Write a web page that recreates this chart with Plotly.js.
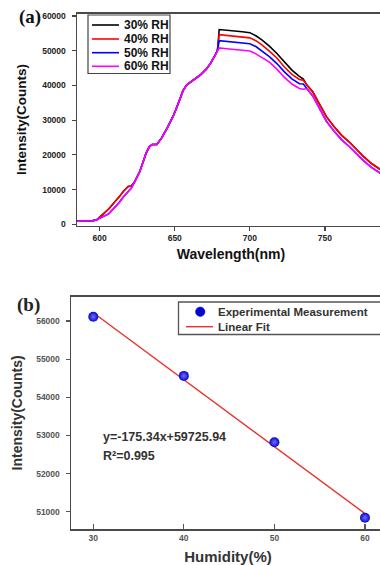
<!DOCTYPE html>
<html><head><meta charset="utf-8">
<script src="https://cdn.plot.ly/plotly-3.0.1.min.js"></script>
<style>html,body{margin:0;padding:0;overflow:hidden;background:#fff;width:380px;height:565px}#chart{width:390px;height:565px}</style>
</head><body><div id="chart"></div>
<script>
// ---- Panel (a): PL spectra ----
const wavelength = [585,590,595,598,600,603,606,610,613,616,619,621,623,626.7,629,631,633,635,638,641,645,649,652,655.5,658,661,664,667,671,674,676.7,678.4,679.6,683,687,691,695,700,704,708,713,718,723,728,733,735.6,738,742,746,751,756,761,766.7,771,776,781,786.7,790];
const rh30 = [900,900,1000,1300,2000,3200,4400,6300,7900,9600,10900,11000,12000,15200,18000,20600,22300,23000,23000,24700,27800,31200,34400,38500,40200,41100,42000,43000,44700,46500,48600,50000,56100,56000,55800,55650,55450,55200,54300,53100,51300,49200,46700,44400,42600,41800,40100,38100,34900,31000,28200,25700,23500,21500,19400,17500,15800,14900];
const rh40 = [900,900,1000,1300,2000,3200,4400,6300,7900,9600,10900,11000,12000,15200,18000,20600,22300,23000,23000,24700,27800,31200,34400,38500,40200,41100,42000,43000,44700,46500,48600,50000,54600,54450,54250,54100,53900,53700,52900,51700,49900,47900,45300,43200,41700,41500,40100,38100,34900,31000,28200,25700,23500,21500,19400,17500,15800,14900];
const rh50 = [900,900,1000,1300,1800,2400,3000,4800,6300,8000,9400,10400,12000,15200,18000,20600,22300,23000,23000,24700,27800,31200,34400,38500,40200,41100,42000,43000,44700,46500,48600,50000,52900,52750,52550,52400,52200,52000,51200,50000,48300,46300,43900,41900,40500,40400,39100,36900,33700,29700,26900,24400,22200,20300,18200,16400,14700,13800];
const rh60 = [900,900,1000,1300,1800,2400,3000,4800,6300,8000,9400,10400,12000,15200,18000,20600,22300,23000,23000,24700,27800,31200,34400,38500,40200,41100,42000,43000,44700,46500,48600,50000,50800,50650,50450,50250,50100,49900,49100,48100,46700,44700,42300,40400,39100,38900,39100,36900,33700,29700,26900,24400,22200,20300,18200,16400,14700,13800];
const seriesNames = ['30% RH','40% RH','50% RH','60% RH'];
const seriesColors = ['#000000','#ff0000','#0000ff','#ff00ff'];
const wlTicks = [600,650,700,750];
const intTicks = [0,10000,20000,30000,40000,50000,60000];
const intTickText = ['0','10000','20000','30000','40000','50000','60000'];

// ---- Panel (b): peak intensity vs humidity ----
const humidity = [30,40,50,60];
const peakIntensity = [56110,54560,52820,50840];
const humTicks = [30,40,50,60];
const peakTicks = [51000,52000,53000,54000,55000,56000];
const peakTickText = ['51000','52000','53000','54000','55000','56000'];
const fitLabel = 'y=-175.34x+59725.94';
const r2Label = 'R\u00b2=0.995';

// least squares fit from the measured points
const n = humidity.length;
const mx = humidity.reduce((a,b)=>a+b,0)/n;
const my = peakIntensity.reduce((a,b)=>a+b,0)/n;
let sxy=0, sxx=0;
for (let i=0;i<n;i++){ sxy += (humidity[i]-mx)*(peakIntensity[i]-my); sxx += (humidity[i]-mx)**2; }
const slope = sxy/sxx, intercept = my - slope*mx;
const fitX = [humidity[0], humidity[n-1]];
const fitY = fitX.map(x => slope*x + intercept);

const W = 390, H = 565;
const px = x => x/W, py = y => 1 - y/H;

const spectra = [rh30, rh40, rh50, rh60];
const traces = spectra.map((s,i)=>({
  x: wavelength, y: s, type:'scatter', mode:'lines', name: seriesNames[i],
  line:{color: seriesColors[i], width:1.6}, xaxis:'x', yaxis:'y', showlegend:false
}));
traces.push({
  x: fitX, y: fitY, type:'scatter', mode:'lines', name:'Linear Fit',
  line:{color:'#e8322c', width:1.4}, xaxis:'x2', yaxis:'y2', showlegend:false
});
traces.push({
  x: humidity, y: peakIntensity, type:'scatter', mode:'markers', name:'Experimental Measurement',
  marker:{size:10, color:'#0606cc', line:{width:0}, gradient:{type:'radial', color:'#7070ff'}},
  xaxis:'x2', yaxis:'y2', showlegend:false
});

const tickFontA = {family:'Arial, Liberation Sans', size:8.5, color:'#222', weight:'bold'};
const tickFontB = {family:'Arial, Liberation Sans', size:8.5, color:'#555', weight:'bold'};
const axisLine = {showline:true, linecolor:'#4a4a4a', linewidth:1.5, mirror:true, showgrid:false, zeroline:false};

const shapes = [];
const annotations = [];
// legend (a)
shapes.push({type:'rect', xref:'paper', yref:'paper', x0:px(88), x1:px(170), y0:py(73.5), y1:py(15), line:{color:'#444', width:1.2}, fillcolor:'rgba(255,255,255,0)'});
const rowsA = [25,39,52.7,66.3];
rowsA.forEach((r,i)=>{
  shapes.push({type:'line', xref:'paper', yref:'paper', x0:px(92), x1:px(119), y0:py(r), y1:py(r), line:{color:seriesColors[i], width:1.6}});
  annotations.push({xref:'paper', yref:'paper', x:px(122), y:py(r), xanchor:'left', yanchor:'middle', showarrow:false,
    text: seriesNames[i], font:{family:'Arial, Liberation Sans', size:12, color:'#111', weight:'bold'}});
});
// legend (b)
shapes.push({type:'rect', xref:'paper', yref:'paper', x0:px(178.5), x1:px(400), y0:py(334.5), y1:py(302), line:{color:'#555', width:1.3}, fillcolor:'rgba(255,255,255,0)'});
shapes.push({type:'circle', xref:'paper', yref:'paper', x0:px(195.5), x1:px(205), y0:py(316.5), y1:py(307), line:{color:'#0606cc', width:0.5}, fillcolor:'#0606cc'});
shapes.push({type:'line', xref:'paper', yref:'paper', x0:px(186), x1:px(213), y0:py(326.7), y1:py(326.7), line:{color:'#e8322c', width:1.4}});
annotations.push({xref:'paper', yref:'paper', x:px(216), y:py(311.5), xanchor:'left', yanchor:'middle', showarrow:false,
  text:'Experimental Measurement', font:{family:'Arial, Liberation Sans', size:11.5, color:'#333', weight:'bold'}});
annotations.push({xref:'paper', yref:'paper', x:px(216), y:py(326.7), xanchor:'left', yanchor:'middle', showarrow:false,
  text:'Linear Fit', font:{family:'Arial, Liberation Sans', size:11.5, color:'#333', weight:'bold'}});
// panel labels
annotations.push({xref:'paper', yref:'paper', x:px(30), y:py(17), xanchor:'center', yanchor:'middle', showarrow:false,
  text:'(a)', font:{family:'Liberation Serif, Times New Roman', size:19, color:'#111', weight:'bold'}});
annotations.push({xref:'paper', yref:'paper', x:px(28.5), y:py(305), xanchor:'center', yanchor:'middle', showarrow:false,
  text:'(b)', font:{family:'Liberation Serif, Times New Roman', size:19, color:'#222', weight:'bold'}});
// fit equation
annotations.push({xref:'paper', yref:'paper', x:px(101), y:py(436.7), xanchor:'left', yanchor:'middle', showarrow:false,
  text: fitLabel, font:{family:'Arial, Liberation Sans', size:12.5, color:'#333', weight:'bold'}});
annotations.push({xref:'paper', yref:'paper', x:px(101), y:py(456), xanchor:'left', yanchor:'middle', showarrow:false,
  text: r2Label, font:{family:'Arial, Liberation Sans', size:12.5, color:'#333', weight:'bold'}});

const layout = {
  width: W, height: H, margin:{l:0,r:0,t:0,b:0}, paper_bgcolor:'#fff', plot_bgcolor:'#fff',
  showlegend:false,
  xaxis: Object.assign({}, axisLine, {domain:[px(77), px(385)], anchor:'y', range:[584.9, 790],
    tickvals: wlTicks, ticks:'outside', ticklen:4, tickwidth:1.2, tickcolor:'#444', tickfont: tickFontA,
    title:{text:'Wavelength(nm)', font:{family:'Arial, Liberation Sans', size:14, color:'#111', weight:'bold'}, standoff:7}}),
  yaxis: Object.assign({}, axisLine, {domain:[py(225.5), py(13.5)], anchor:'x', range:[-346, 60720],
    tickvals: intTicks, ticktext: intTickText, ticks:'outside', ticklen:4, tickwidth:1.2, tickcolor:'#444', tickfont: tickFontA, ticklabelstandoff:4,
    title:{text:'Intensity(Counts)', font:{family:'Arial, Liberation Sans', size:13.5, color:'#111', weight:'bold'}, standoff:12}}),
  xaxis2: Object.assign({}, axisLine, {domain:[px(71), px(385)], anchor:'y2', range:[27.54, 62.21],
    tickvals: humTicks, ticks:'inside', ticklen:5, tickwidth:1.2, tickcolor:'#555', tickfont: tickFontB,
    title:{text:'Humidity(%)', font:{family:'Arial, Liberation Sans', size:15, color:'#333', weight:'bold'}, standoff:11}}),
  yaxis2: Object.assign({}, axisLine, {domain:[py(529), py(296.7)], anchor:'x2', range:[50546, 56637],
    tickvals: peakTicks, ticktext: peakTickText, ticks:'outside', ticklen:4, tickwidth:1.2, tickcolor:'#555', tickfont: tickFontB, ticklabelstandoff:4,
    title:{text:'Intensity(Counts)', font:{family:'Arial, Liberation Sans', size:14, color:'#333', weight:'bold'}, standoff:10}}),
  shapes: shapes, annotations: annotations
};
Plotly.newPlot('chart', traces, layout, {displayModeBar:false, staticPlot:true});
</script>
</body></html>
